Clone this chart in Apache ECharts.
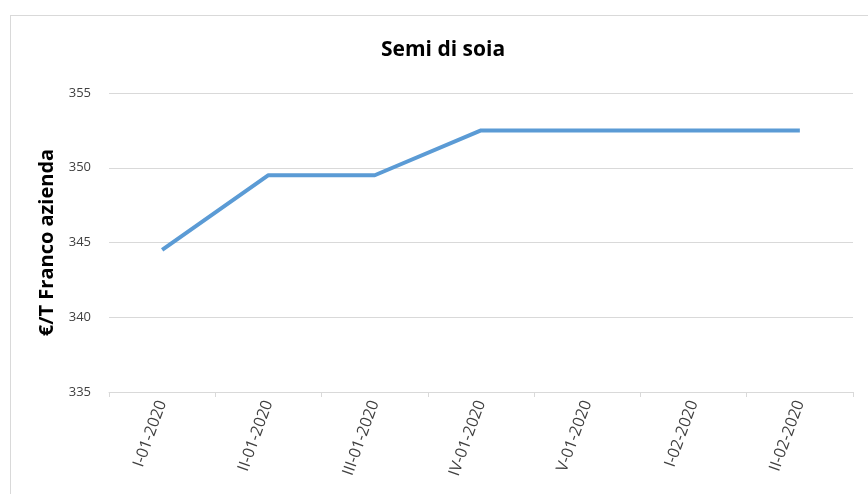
<!DOCTYPE html>
<html>
<head>
<meta charset="utf-8">
<script src="https://cdn.jsdelivr.net/npm/echarts@6/dist/echarts.min.js"></script>
<style>
  html, body { margin: 0; padding: 0; background: #fff; }
  #frame { position: absolute; left: 10px; top: 15px; width: 870px; height: 490px; border: 1px solid #d9d9d9; box-sizing: border-box; }
  #chart { width: 868px; height: 494px; position: absolute; left: 0; top: 0; }
</style>
</head>
<body>
<div id="frame"></div>
<div id="chart"></div>
<script>
// periodi (decadi)
var periods = ['I-01-2020', 'II-01-2020', 'III-01-2020', 'IV-01-2020', 'V-01-2020', 'I-02-2020', 'II-02-2020'];
// prezzo €/T franco azienda
var prices = [344.5, 349.5, 349.5, 352.5, 352.5, 352.5, 352.5];

var myChart = echarts.init(document.getElementById('chart'));

var option = {
  title: {
    text: 'Semi di soia',
    left: 438,
    top: 35,
    textAlign: 'center',
    textStyle: {
      fontFamily: 'Open Sans',
      fontSize: 21,
      fontWeight: 'bold',
      color: '#000'
    }
  },
  grid: {
    left: 109,
    right: 15,
    top: 93,
    bottom: 102
  },
  xAxis: {
    type: 'category',
    boundaryGap: true,
    data: periods,
    axisLine: { lineStyle: { color: '#d9d9d9', width: 1 } },
    axisTick: { show: true, length: 5, lineStyle: { color: '#d9d9d9' } },
    axisLabel: {
      rotate: 70,
      margin: 9,
      color: '#404040',
      fontFamily: 'Open Sans',
      fontSize: 16
    }
  },
  yAxis: {
    type: 'value',
    min: 335,
    max: 355,
    interval: 5,
    name: '€/T Franco azienda',
    nameLocation: 'middle',
    nameGap: 52,
    nameTextStyle: {
      fontFamily: 'Open Sans',
      fontSize: 20,
      fontWeight: 'bold',
      color: '#000'
    },
    axisLine: { show: false },
    axisTick: { show: false },
    axisLabel: {
      color: '#404040',
      fontFamily: 'Open Sans',
      fontSize: 13,
      margin: 18
    },
    splitLine: { lineStyle: { color: '#d9d9d9', width: 1 } }
  },
  series: [
    {
      type: 'line',
      data: prices,
      symbol: 'none',
      lineStyle: { color: '#5b9bd5', width: 4 },
      itemStyle: { color: '#5b9bd5' }
    }
  ]
};

myChart.setOption(option);
</script>
</body>
</html>
